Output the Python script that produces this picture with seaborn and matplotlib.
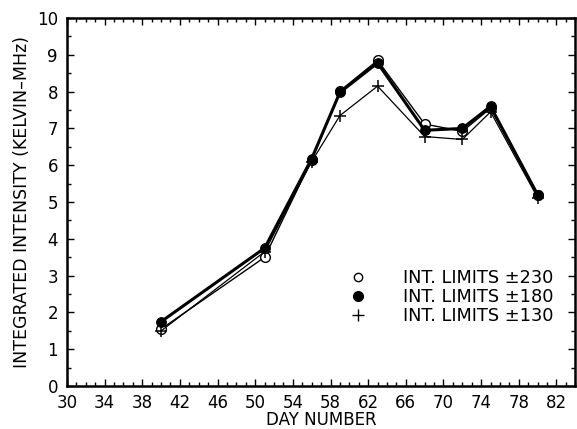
import matplotlib
matplotlib.use("Agg")
import matplotlib.pyplot as plt
from matplotlib.ticker import MultipleLocator, FixedLocator
from matplotlib.lines import Line2D
import seaborn as sns
import pandas as pd

days = [40, 51, 56, 59, 63, 68, 72, 75, 80]
lim_230 = [1.55, 3.50, 6.15, 8.02, 8.85, 7.12, 6.92, 7.55, 5.20]
lim_180 = [1.75, 3.75, 6.18, 7.98, 8.78, 6.95, 7.00, 7.60, 5.20]
lim_130 = [1.50, 3.65, 6.10, 7.35, 8.15, 6.78, 6.70, 7.45, 5.12]
labels = ["INT. LIMITS \u00b1230", "INT. LIMITS \u00b1180", "INT. LIMITS \u00b1130"]
xticks = list(range(30, 83, 4))

sns.set_theme(style="ticks")
plt.rcParams['font.family'] = ['DejaVu Sans']
plt.rcParams['text.color'] = 'black'

fig = plt.figure(figsize=(5.77, 4.29), dpi=100)
ax = fig.add_axes([0.116, 0.100, 0.881, 0.858])

df = pd.DataFrame({"day": days, "a": lim_230, "b": lim_180, "c": lim_130})

sns.lineplot(data=df, x="day", y="a", ax=ax, color="black", lw=1.0,
             marker="o", markersize=7, markerfacecolor="white", markeredgecolor="black", markeredgewidth=1.0)
sns.lineplot(data=df, x="day", y="b", ax=ax, color="black", lw=2.2,
             marker="o", markersize=7, markerfacecolor="black", markeredgecolor="black")
sns.lineplot(data=df, x="day", y="c", ax=ax, color="black", lw=0.9,
             marker="+", markersize=9, markeredgewidth=1.1, markeredgecolor="black")

ax.set_xlim(30, 84)
ax.set_ylim(0, 10)
ax.xaxis.set_major_locator(FixedLocator(xticks))
ax.xaxis.set_minor_locator(MultipleLocator(1))
ax.yaxis.set_major_locator(MultipleLocator(1))
ax.yaxis.set_minor_locator(MultipleLocator(0.5))
ax.tick_params(which="both", direction="in", top=True, right=True, color="black", width=1.0)
ax.tick_params(which="major", length=5, labelsize=12, labelcolor="black")
ax.tick_params(which="minor", length=3)
ax.tick_params(axis="x", which="major", pad=6)
ax.tick_params(axis="y", which="major", pad=6.5)
for s in ax.spines.values():
    s.set_color("black")
    s.set_linewidth(1.8)

ax.set_xlabel("DAY NUMBER", fontsize=12, labelpad=-1, color="black")
ax.set_ylabel("INTEGRATED INTENSITY (KELVIN\u2013MHz)", fontsize=12.5, labelpad=4, color="black")

handles = [
    Line2D([], [], ls="none", marker="o", markersize=6, markerfacecolor="white", markeredgecolor="black"),
    Line2D([], [], ls="none", marker="o", markersize=7, markerfacecolor="black", markeredgecolor="black"),
    Line2D([], [], ls="none", marker="+", markersize=8, markeredgecolor="black"),
]
ax.legend(handles, labels, loc="center left", bbox_to_anchor=(0.542, 0.242), frameon=False,
          fontsize=12.8, handlelength=1.0, handletextpad=2.0, labelspacing=0.05, borderaxespad=0,
          labelcolor="black")

fig.savefig("out.png", dpi=100, facecolor="white")
